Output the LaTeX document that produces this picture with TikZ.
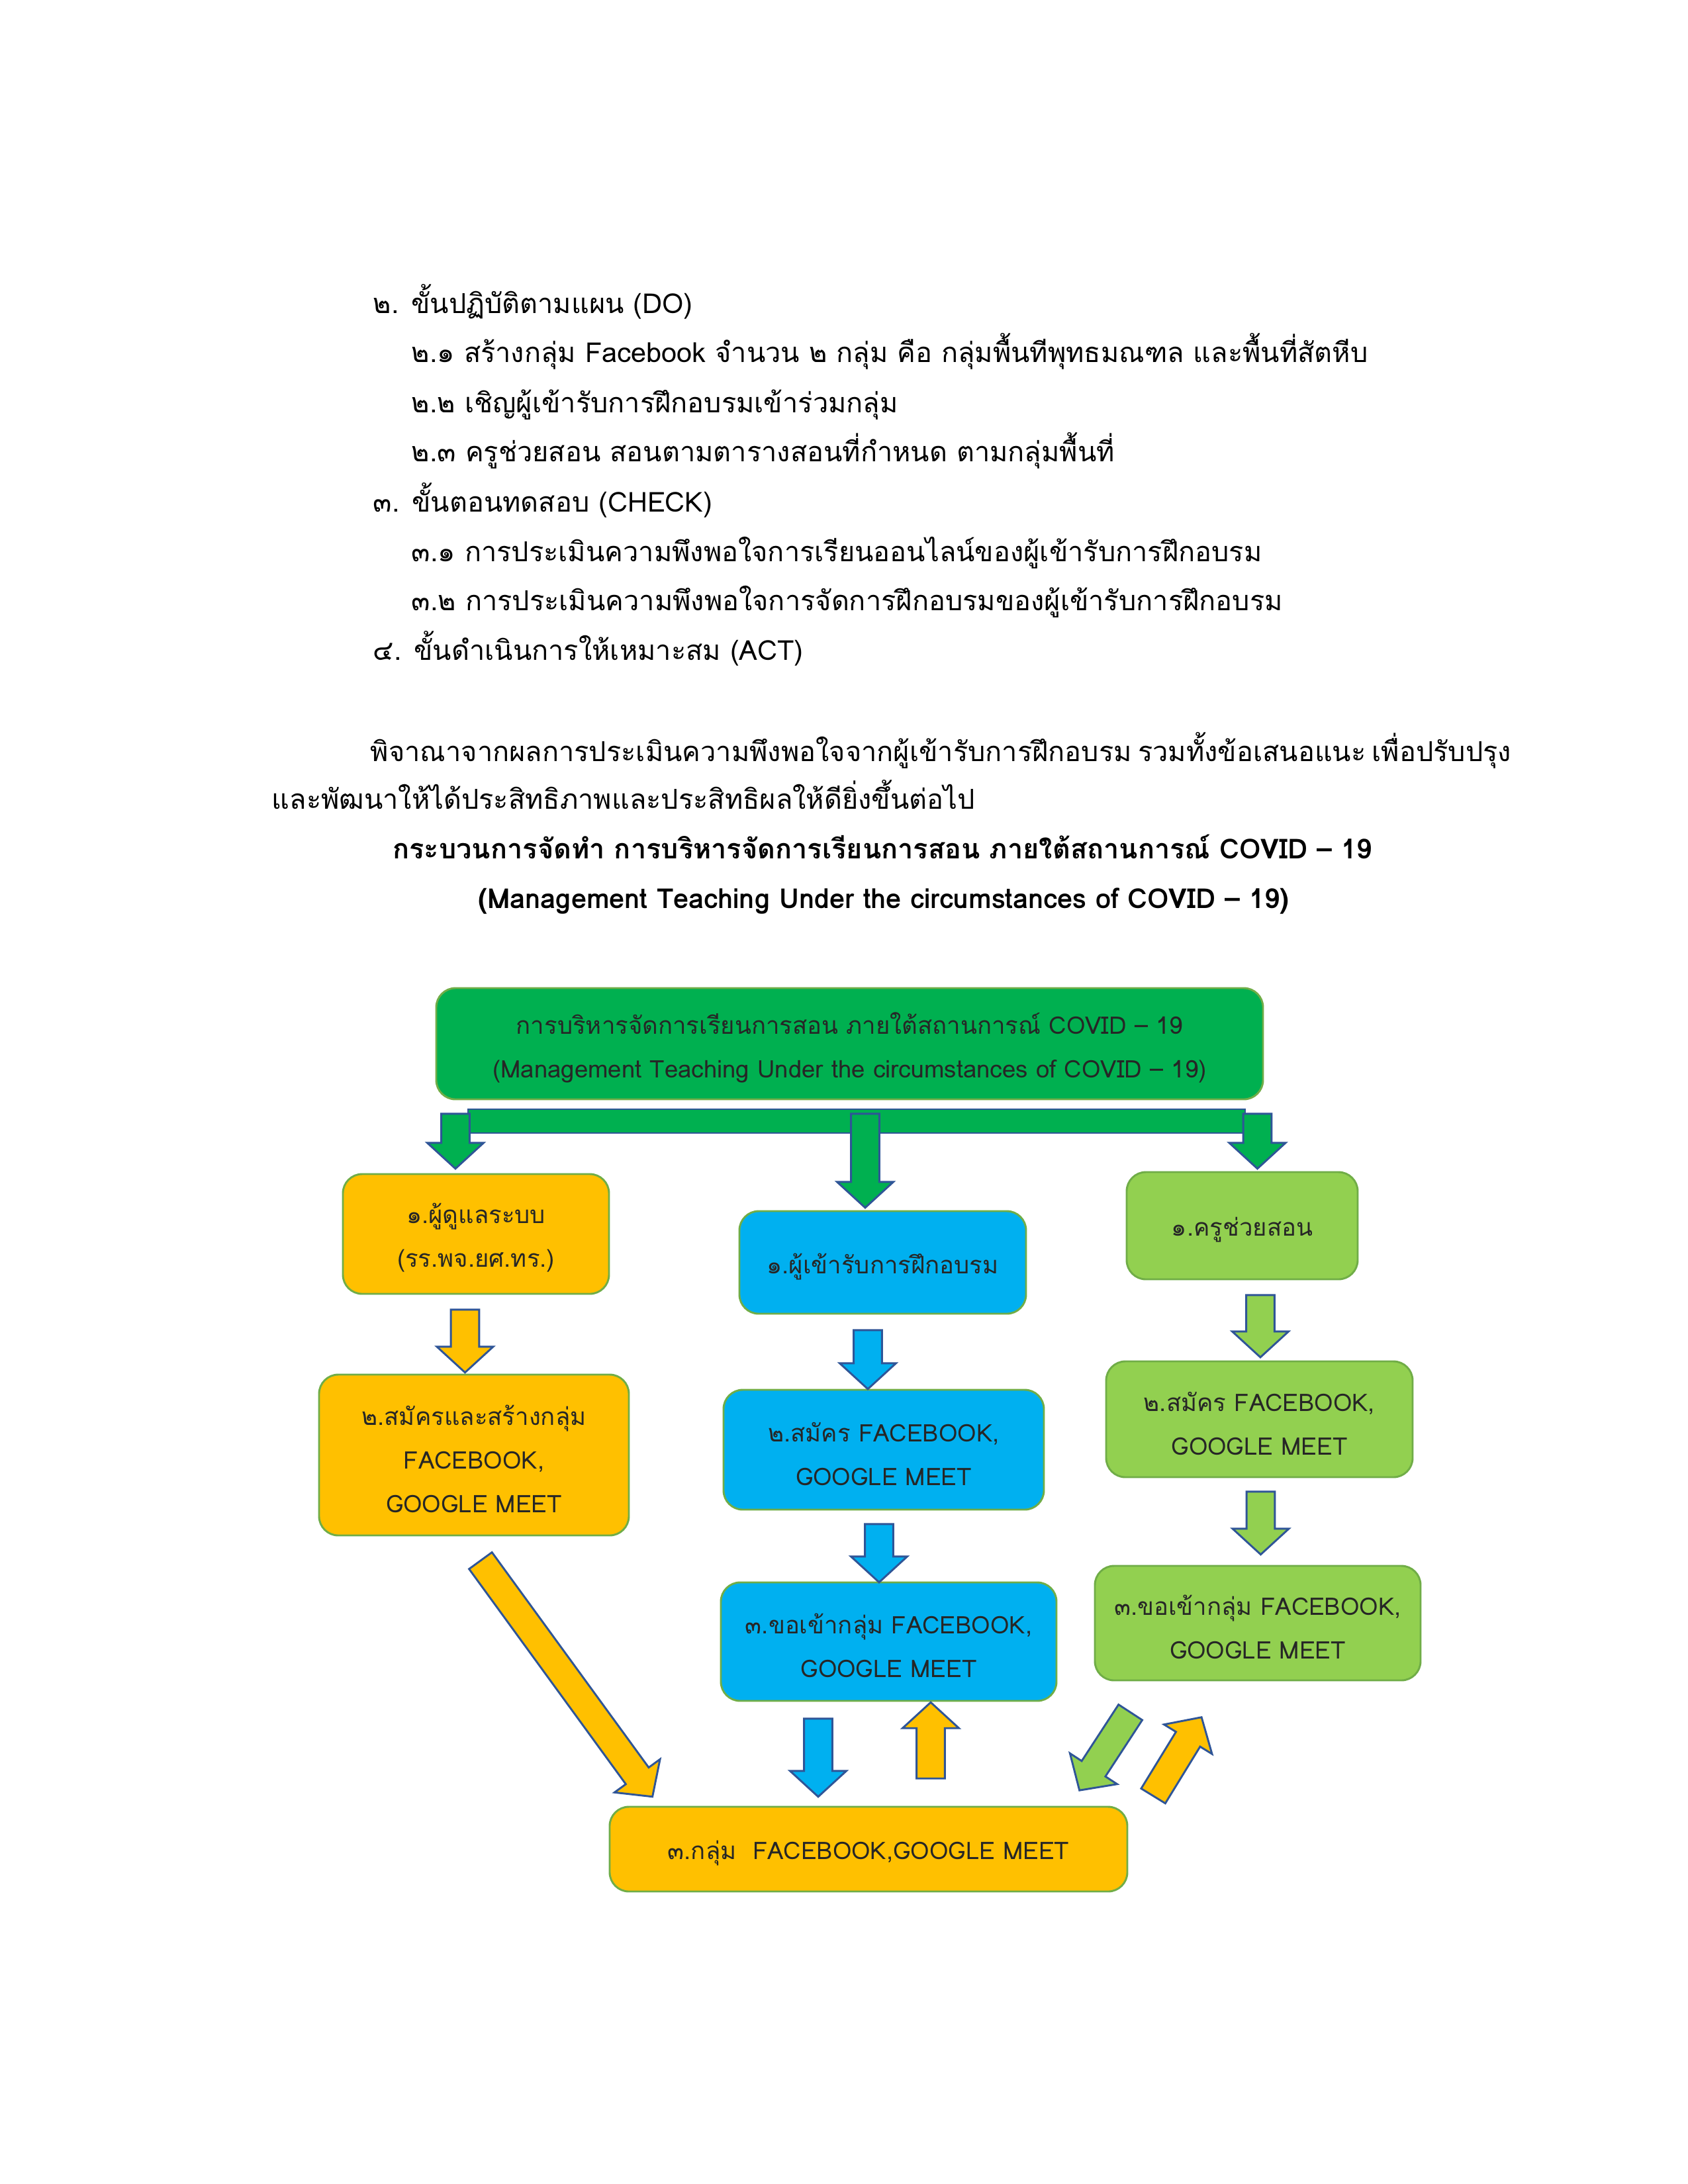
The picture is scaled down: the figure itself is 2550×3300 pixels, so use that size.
\documentclass[tikz,border=0pt]{standalone}
\usepackage{fontspec}
\setmainfont{Loma}[Script=Thai]
\usetikzlibrary{shapes.arrows}
\usetikzlibrary{calc}
\definecolor{topgreen}{HTML}{00B050}
\definecolor{yel}{HTML}{FFC000}
\definecolor{blu}{HTML}{00B0F0}
\definecolor{lgr}{HTML}{92D050}
\definecolor{boxedge}{HTML}{70AD47}
\definecolor{arrowedge}{HTML}{2F5597}
\definecolor{boxtext}{HTML}{262626}
\newcommand\px{0.2409pt}
\newcommand\bodysize{\fontsize{10pt}{18pt}\selectfont}
\newcommand\boxsize{\fontsize{8.8pt}{15.9pt}\selectfont}
\tikzset{bodyline/.style={inner sep=0pt, font=\bodysize}}
\tikzset{box/.style={draw=boxedge, line width=0.7pt, rounded corners=7pt, inner sep=0pt}}
\tikzset{boxlabel/.style={align=center, inner sep=0pt, text=boxtext, font=\boxsize}}
\tikzset{blockarrow/.style={single arrow, draw=arrowedge, line width=0.7pt, inner sep=0pt, inner ysep=4.8pt,
    single arrow head extend=5.1pt, single arrow tip angle=95}}

\begin{document}
\begin{tikzpicture}[x=0.2409pt,y=-0.2409pt]
    \useasboundingbox[fill=white] (0,0) rectangle (2550,3300);
    % steps above the chart
    \foreach \x/\y/\lab/\tx in {
      563/473/dostep/{๒. ขั้นปฏิบัติตามแผน (DO)},
      621/547/do1/{๒.๑ สร้างกลุ่ม Facebook จำนวน ๒ กลุ่ม คือ กลุ่มพื้นทีพุทธมณฑล และพื้นที่สัตหีบ},
      621/623/do2/{๒.๒ เชิญผู้เข้ารับการฝึกอบรมเข้าร่วมกลุ่ม},
      621/697/do3/{๒.๓ ครูช่วยสอน สอนตามตารางสอนที่กำหนด ตามกลุ่มพื้นที่},
      563/773/chk/{๓. ขั้นตอนทดสอบ (CHECK)},
      621/848/chk1/{๓.๑ การประเมินความพึงพอใจการเรียนออนไลน์ของผู้เข้ารับการฝึกอบรม},
      621/922/chk2/{๓.๒ การประเมินความพึงพอใจการจัดการฝึกอบรมของผู้เข้ารับการฝึกอบรม},
      563/997/act/{๔. ขั้นดำเนินการให้เหมาะสม (ACT)},
      559/1150/para1/{\makebox[408pt][s]{พิจาณาจากผลการประเมินความพึงพอใจจากผู้เข้ารับการฝึกอบรม รวมทั้งข้อเสนอแนะ เพื่อปรับปรุง}},
      410/1222/para2/{และพัฒนาให้ได้ประสิทธิภาพและประสิทธิผลให้ดียิ่งขึ้นต่อไป}%
    } {
      \node[bodyline, anchor=base west] (\lab) at (\x, \y) {\tx};
    }
    \node[bodyline, anchor=base, font=\bodysize\bfseries] (ttl1) at (1333, 1297)
      {กระบวนการจัดทำ การบริหารจัดการเรียนการสอน ภายใต้สถานการณ์ COVID – 19};
    \node[bodyline, anchor=base, font=\bodysize\bfseries] (ttl2) at (1335, 1372)
      {(Management Teaching Under the circumstances of COVID – 19)};

    % chart boxes
    \foreach \x/\y/\w/\h/\lab/\col/\tx in {
      1283.5/1577/1249/168/top/topgreen/{การบริหารจัดการเรียนการสอน ภายใต้สถานการณ์ COVID – 19\\(Management Teaching Under the circumstances of COVID – 19)},
      719/1864.5/402/181/admin/yel/{๑.ผู้ดูแลระบบ\\(รร.พจ.ยศ.ทร.)},
      1333.5/1907.5/433/155/trainee/blu/{๑.ผู้เข้ารับการฝึกอบรม},
      1876.5/1852/349/162/assist/lgr/{๑.ครูช่วยสอน},
      716/2198.5/468/243/admin2/yel/{๒.สมัครและสร้างกลุ่ม\\FACEBOOK,\\GOOGLE MEET},
      1335/2190.5/484/181/trainee2/blu/{๒.สมัคร FACEBOOK,\\GOOGLE MEET},
      1902.5/2144.5/463/175/assist2/lgr/{๒.สมัคร FACEBOOK,\\GOOGLE MEET},
      1342.5/2480.5/507/179/trainee3/blu/{๓.ขอเข้ากลุ่ม FACEBOOK,\\GOOGLE MEET},
      1900/2452.5/492/173/assist3/lgr/{๓.ขอเข้ากลุ่ม FACEBOOK,\\GOOGLE MEET},
      1312/2794/782/128/group/yel/{๓.กลุ่ม~~FACEBOOK,GOOGLE MEET}%
    } {
      \node[box, fill=\col, minimum width=\w*\px, minimum height=\h*\px] (\lab) at (\x, \y) {};
      \node[boxlabel] (\lab-t) at ($(\lab.center)+(0,6)$) {\tx};
    }

    % bar under the top box
    \node[draw=arrowedge, line width=0.7pt, fill=topgreen, inner sep=0pt,
      minimum width=1174*\px, minimum height=36*\px] (bar) at (1294, 1694) {};

    % block arrows
    \foreach \lab/\xa/\ya/\xb/\yb/\col in {
      dl/688/1673/688/1756/topgreen,
      dm/1307/1673/1307/1815/topgreen,
      dr/1899.5/1673/1899.5/1756/topgreen,
      ya/702.5/1969/702.5/2064/yel,
      ba/1311/2000/1311/2089/blu,
      bb/1328/2293/1328/2381/blu,
      ga/1904/1947/1904/2041/lgr,
      gb/1904.5/2244/1904.5/2339/lgr,
      yd/720/2350/980/2707/yel,
      bd/1236/2587/1236/2705/blu,
      yu/1406/2697/1406/2582/yel,
      gd/1713/2579/1636/2697/lgr,
      yr/1737/2722/1810/2603/yel%
    } {
      \coordinate (\lab-s) at (\xa, \ya);
      \coordinate (\lab-e) at (\xb, \yb);
      \path let \p1=($(\lab-e)-(\lab-s)$), \n1={veclen(\x1,\y1)} in
        (\lab-s) -- (\lab-e) node[blockarrow, fill=\col, midway, sloped, allow upside down, minimum height=\n1] (\lab) {};
    }
\end{tikzpicture}
\end{document}
